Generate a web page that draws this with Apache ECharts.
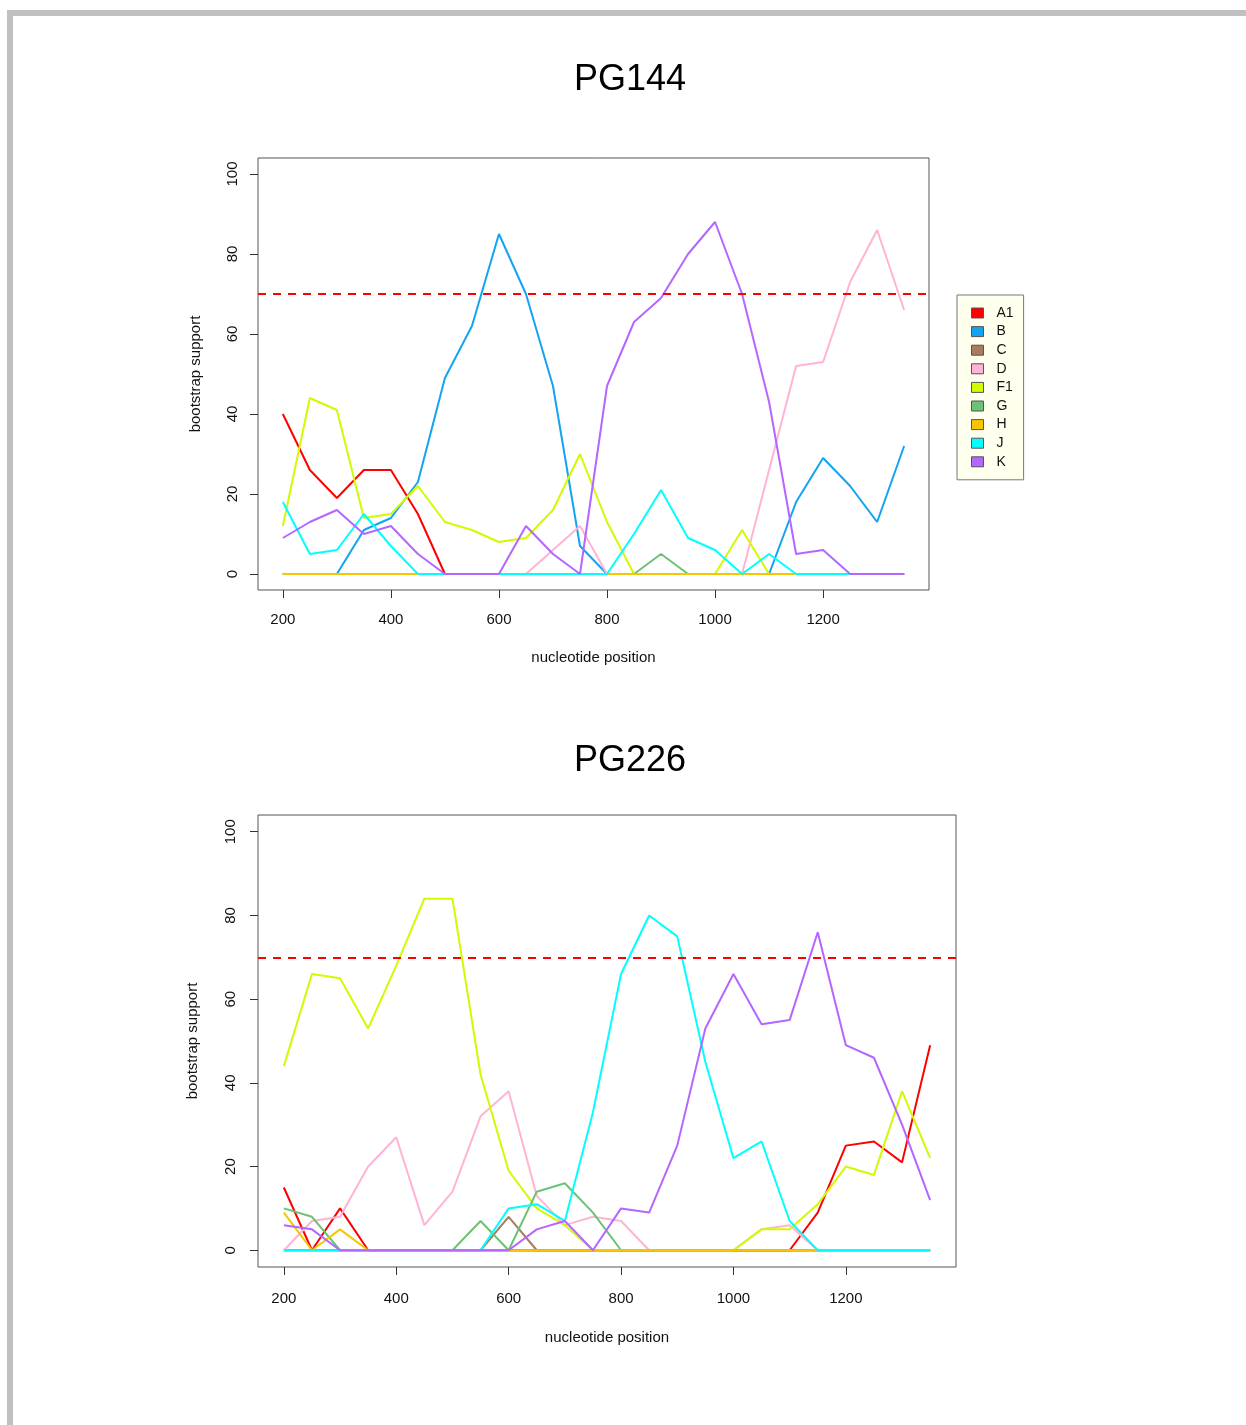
<!DOCTYPE html>
<html>
<head>
<meta charset="utf-8">
<script src="https://cdn.jsdelivr.net/npm/echarts@6/dist/echarts.min.js"></script>
<style>
html,body{margin:0;padding:0;background:#fff;}
#chart{width:1246px;height:1425px;}
</style>
</head>
<body>
<div id="chart"></div>
<script>
const positions = [200,250,300,350,400,450,500,550,600,650,700,750,800,850,900,950,1000,1050,1100,1150,1200,1250,1300,1350];
const seriesNames = ['A1','B','C','D','F1','G','H','J','K'];
const xTicks = [200,400,600,800,1000,1200];
const yTicks = [0,20,40,60,80,100];
const threshold = 70;

// PG144
const top_A1 = [40,26,19,26,26,15,0,0,0,0,0,0,0,0,0,0,0,0,0,0,0,0,0,0];
const top_B  = [0,0,0,11,14,23,49,62,85,70,47,7,0,0,0,0,0,0,0,18,29,22,13,32];
const top_C  = [0,0,0,0,0,0,0,0,0,0,0,0,0,0,0,0,0,0,0,0,0,0,0,0];
const top_D  = [0,0,0,0,0,0,0,0,0,0,6,12,0,0,0,0,0,0,26,52,53,73,86,66];
const top_F1 = [12,44,41,14,15,22,13,11,8,9,16,30,13,0,0,0,0,11,0,0,0,0,0,0];
const top_G  = [0,0,0,0,0,0,0,0,0,0,0,0,0,0,5,0,0,0,0,0,0,0,0,0];
const top_H  = [0,0,0,0,0,0,0,0,0,0,0,0,0,0,0,0,0,0,0,0,0,0,0,0];
const top_J  = [18,5,6,15,7,0,0,0,0,0,0,0,0,10,21,9,6,0,5,0,0,0,0,0];
const top_K  = [9,13,16,10,12,5,0,0,0,12,5,0,47,63,69,80,88,70,43,5,6,0,0,0];

// PG226
const bot_A1 = [15,0,10,0,0,0,0,0,0,0,0,0,0,0,0,0,0,0,0,9,25,26,21,49];
const bot_B  = [0,0,0,0,0,0,0,0,0,0,0,0,0,0,0,0,0,0,0,0,0,0,0,0];
const bot_C  = [0,0,0,0,0,0,0,0,8,0,0,0,0,0,0,0,0,0,0,0,0,0,0,0];
const bot_D  = [0,7,8,20,27,6,14,32,38,13,6,8,7,0,0,0,0,5,6,0,0,0,0,0];
const bot_F1 = [44,66,65,53,68,84,84,42,19,10,6,0,0,0,0,0,0,5,5,11,20,18,38,22];
const bot_G  = [10,8,0,0,0,0,0,7,0,14,16,9,0,0,0,0,0,0,0,0,0,0,0,0];
const bot_H  = [9,0,5,0,0,0,0,0,0,0,0,0,0,0,0,0,0,0,0,0,0,0,0,0];
const bot_J  = [0,0,0,0,0,0,0,0,10,11,7,33,66,80,75,45,22,26,7,0,0,0,0,0];
const bot_K  = [6,5,0,0,0,0,0,0,0,5,7,0,10,9,25,53,66,54,55,76,49,46,30,12];

const colors = {A1:'#FF0000',B:'#12A4F2',C:'#A87C5C',D:'#FFB3D6',F1:'#D2FA00',G:'#6CC274',H:'#F7C600',J:'#00FFFF',K:'#B466FF'};

const topData = [top_A1,top_B,top_C,top_D,top_F1,top_G,top_H,top_J,top_K];
const botData = [bot_A1,bot_B,bot_C,bot_D,bot_F1,bot_G,bot_H,bot_J,bot_K];

const FONT = 'Liberation Sans, Arial, Helvetica, sans-serif';

function mkX(gridIndex, labelMargin, nameGap){
  return {
    type:'value', gridIndex, min:154, max:1396,
    axisLine:{show:false, onZero:false},
    splitLine:{show:false},
    axisTick:{show:true, length:8, customValues:xTicks, lineStyle:{color:'#333',width:1}},
    axisLabel:{customValues:xTicks, margin:labelMargin, color:'#111', fontSize:15, fontFamily:FONT,
               formatter:v=>String(v)},
    name:'nucleotide position', nameLocation:'middle', nameGap,
    nameTextStyle:{color:'#111', fontSize:15, fontFamily:FONT}
  };
}
function mkY(gridIndex, labelMargin, nameGap){
  return {
    type:'value', gridIndex, min:-4, max:104,
    axisLine:{show:false, onZero:false},
    splitLine:{show:false},
    axisTick:{show:true, length:8, customValues:yTicks, lineStyle:{color:'#333',width:1}},
    axisLabel:{customValues:yTicks, margin:labelMargin, rotate:90, color:'#111', fontSize:15, fontFamily:FONT,
               formatter:v=>String(v)},
    name:'bootstrap support', nameLocation:'middle', nameGap, nameRotate:90,
    nameTextStyle:{color:'#111', fontSize:15, fontFamily:FONT}
  };
}

const series = [];
function addSeries(dataSet, idx){
  seriesNames.forEach((n,i)=>{
    const s = {
      name:n, type:'line', xAxisIndex:idx, yAxisIndex:idx,
      data: positions.map((x,j)=>[x, dataSet[i][j]]),
      showSymbol:false, symbol:'none',
      lineStyle:{color:colors[n], width:2},
      itemStyle:{color:colors[n]},
      silent:true
    };
    if(i===0){
      s.markLine = {
        silent:true, symbol:['none','none'], label:{show:false},
        lineStyle:{color:'#FF0000', type:[8,7], width:2},
        data:[{yAxis:threshold}]
      };
    }
    series.push(s);
  });
}
addSeries(topData,0);
addSeries(botData,1);

const chart = echarts.init(document.getElementById('chart'), null, {renderer:'canvas'});
chart.setOption({
  animation:false,
  backgroundColor:'#ffffff',
  grid:[
    {left:258, top:158, width:671, height:432, show:true, borderColor:'#555', borderWidth:1, backgroundColor:'transparent'},
    {left:258, top:815, width:698, height:452, show:true, borderColor:'#555', borderWidth:1, backgroundColor:'transparent'}
  ],
  xAxis:[mkX(0,22,60), mkX(1,24,63)],
  yAxis:[mkY(0,18,55), mkY(1,20,58)],
  legend:{
    data: seriesNames,
    orient:'vertical', left:957, top:295,
    width:66,
    backgroundColor:'#FFFFEE', borderColor:'#777', borderWidth:1,
    padding:[11,10,11,14],
    itemWidth:12, itemHeight:10, itemGap:4.6,
    icon:'rect',
    itemStyle:{borderColor:'#555', borderWidth:1},
    textStyle:{color:'#111', fontSize:14, fontFamily:FONT, padding:[0,0,0,8]},
    selectedMode:false
  },
  graphic:[
    {type:'rect', shape:{x:7, y:10, width:1239, height:6}, style:{fill:'#C0C0C0'}, silent:true},
    {type:'rect', shape:{x:7, y:10, width:6, height:1415}, style:{fill:'#C0C0C0'}, silent:true},
    {type:'text', x:630, y:80, style:{text:'PG144', font:'36px '+FONT, fill:'#000', textAlign:'center', textVerticalAlign:'middle'}, silent:true},
    {type:'text', x:630, y:761, style:{text:'PG226', font:'36px '+FONT, fill:'#000', textAlign:'center', textVerticalAlign:'middle'}, silent:true}
  ],
  series
});
</script>
</body>
</html>
